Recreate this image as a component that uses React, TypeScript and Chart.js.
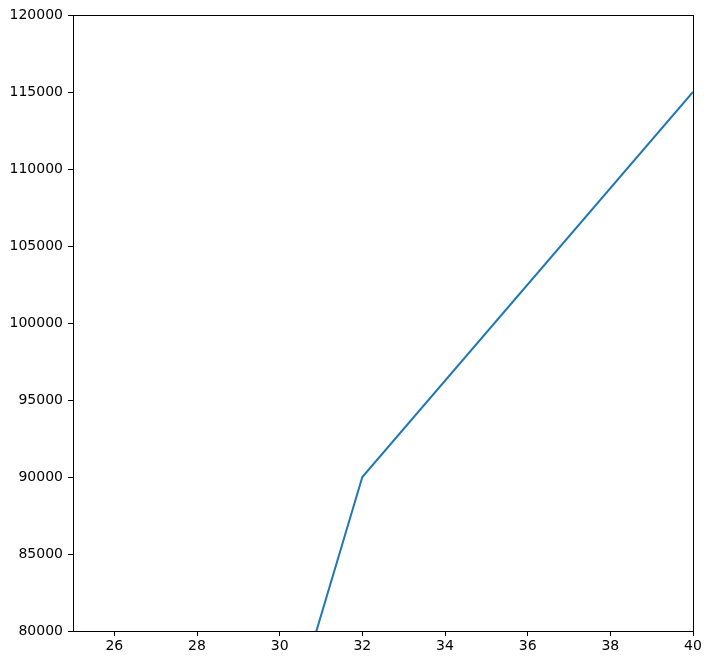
import { useEffect, useRef } from 'react';
import Chart from 'chart.js/auto';

// values
const xValues = [30, 32, 40];
const yValues = [72000, 90000, 115000];
const xTicks = [26, 28, 30, 32, 34, 36, 38, 40];
const yTicks = [80000, 85000, 90000, 95000, 100000, 105000, 110000, 115000, 120000];

const frame = {
    id: 'frame',
    afterDraw(chart: any) {
        const { ctx, chartArea } = chart;
        ctx.save();
        ctx.strokeStyle = '#000';
        ctx.lineWidth = 1;
        ctx.strokeRect(
            Math.round(chartArea.left) + 0.5,
            Math.round(chartArea.top) + 0.5,
            Math.round(chartArea.right - chartArea.left),
            Math.round(chartArea.bottom - chartArea.top)
        );
        ctx.restore();
    },
};

export default function App() {
    const canvasRef = useRef(null);

    useEffect(() => {
        const font = { family: '"DejaVu Sans", sans-serif', size: 14 };
        // @ts-expect-error
        const chart = new Chart(canvasRef.current, {
            type: 'line',
            data: {
                datasets: [
                    {
                        data: xValues.map((x, i) => ({ x, y: yValues[i] })),
                        borderColor: '#1f77b4',
                        borderWidth: 2,
                        pointRadius: 0,
                        tension: 0,
                    },
                ],
            },
            options: {
                animation: false,
                responsive: false,
                devicePixelRatio: 1,
                layout: { padding: { top: 15, right: 18, left: 0, bottom: 0 } },
                plugins: { legend: { display: false }, tooltip: { enabled: false } },
                scales: {
                    x: {
                        type: 'linear',
                        min: 25,
                        max: 40,
                        afterBuildTicks: (axis: any) => {
                            axis.ticks = xTicks.map((v) => ({ value: v }));
                        },
                        afterFit: (axis: any) => {
                            axis.height = 34;
                        },
                        grid: { drawOnChartArea: false, drawTicks: true, tickLength: 5, color: '#000' },
                        border: { display: true, color: '#000' },
                        ticks: { color: '#000', font, padding: 2, maxRotation: 0, autoSkip: false },
                    },
                    y: {
                        type: 'linear',
                        min: 80000,
                        max: 120000,
                        afterBuildTicks: (axis: any) => {
                            axis.ticks = yTicks.map((v) => ({ value: v }));
                        },
                        afterFit: (axis: any) => {
                            axis.width = 73;
                        },
                        grid: { drawOnChartArea: false, drawTicks: true, tickLength: 5, color: '#000' },
                        border: { display: true, color: '#000' },
                        ticks: { color: '#000', font, padding: 5, autoSkip: false, callback: (v: any) => String(v) },
                    },
                },
            },
            plugins: [frame],
        });
        return () => chart.destroy();
    }, []);

    return (
        <div style={{ position: 'absolute', left: 0, top: 0, width: 711, height: 665, background: '#fff' }}>
            <canvas ref={canvasRef} width={711} height={665} />
        </div>
    );
}
